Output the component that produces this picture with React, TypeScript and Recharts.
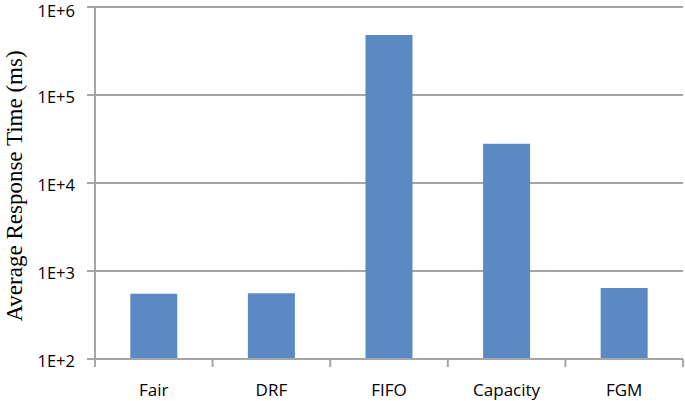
import React from 'react';
import { BarChart, Bar, XAxis, YAxis, CartesianGrid } from 'recharts';

const categories = ['Fair', 'DRF', 'FIFO', 'Capacity', 'FGM'];
const responseTimes = [550, 560, 480000, 28000, 640];
const yTicks = [100, 1000, 10000, 100000, 1000000];

const data = categories.map((name, i) => ({ name, value: responseTimes[i] }));

const GRID = '#a6a6a6';
const BAR = '#5b89c3';
const SANS = '"Open Sans", "Liberation Sans", sans-serif';
const SERIF = '"Liberation Serif", "Times New Roman", serif';

const fmt = (v: number) => `1E+${Math.round(Math.log10(v))}`;

const XTick = (props: any) => {
  const { x, y, payload, index } = props;
  const half = 58.8;
  const isLast = index === categories.length - 1;
  return (
    <g>
      <line x1={x - half} x2={x - half} y1={y - 8} y2={y} stroke={GRID} strokeWidth={2} />
      {isLast && <line x1={x + half} x2={x + half} y1={y - 8} y2={y} stroke={GRID} strokeWidth={2} />}
      <text x={x} y={y + 29} textAnchor="middle" fontFamily={SANS} fontSize={17} fill="#000">
        {payload.value}
      </text>
    </g>
  );
};

const YTick = (props: any) => {
  const { x, y, payload } = props;
  return (
    <text x={x} y={y + 7.5} textAnchor="end" fontFamily={SANS} fontSize={16.5} fill="#000">
      {fmt(payload.value)}
    </text>
  );
};

const YLabel = (props: any) => {
  const { viewBox } = props;
  const cy = viewBox.y + viewBox.height / 2 + 3;
  const cx = 14;
  return (
    <text
      x={cx}
      y={cy}
      transform={`rotate(-90 ${cx} ${cy})`}
      textAnchor="middle"
      dominantBaseline="central"
      fontFamily={SERIF}
      fontSize={23}
      fill="#000"
    >
      Average Response Time (ms)
    </text>
  );
};

export default function App() {
  return (
    <div style={{ position: 'absolute', left: 0, top: 0, width: 685, height: 401, background: '#fff' }}>
      <BarChart
        width={685}
        height={401}
        data={data}
        margin={{ top: 7, right: 2, bottom: 12, left: 15 }}
        barCategoryGap="30%"
      >
        <CartesianGrid vertical={false} stroke={GRID} strokeWidth={2} />
        <XAxis
          dataKey="name"
          tick={<XTick />}
          tickLine={false}
          axisLine={{ stroke: GRID, strokeWidth: 2 }}
          height={30}
          interval={0}
        />
        <YAxis
          scale="log"
          domain={[100, 1000000]}
          ticks={yTicks}
          allowDataOverflow
          width={80}
          tickSize={8}
          tickMargin={12}
          axisLine={{ stroke: GRID, strokeWidth: 2 }}
          tickLine={{ stroke: GRID, strokeWidth: 2 }}
          tick={<YTick />}
          label={<YLabel />}
        />
        <Bar dataKey="value" fill={BAR} isAnimationActive={false} />
      </BarChart>
    </div>
  );
}
